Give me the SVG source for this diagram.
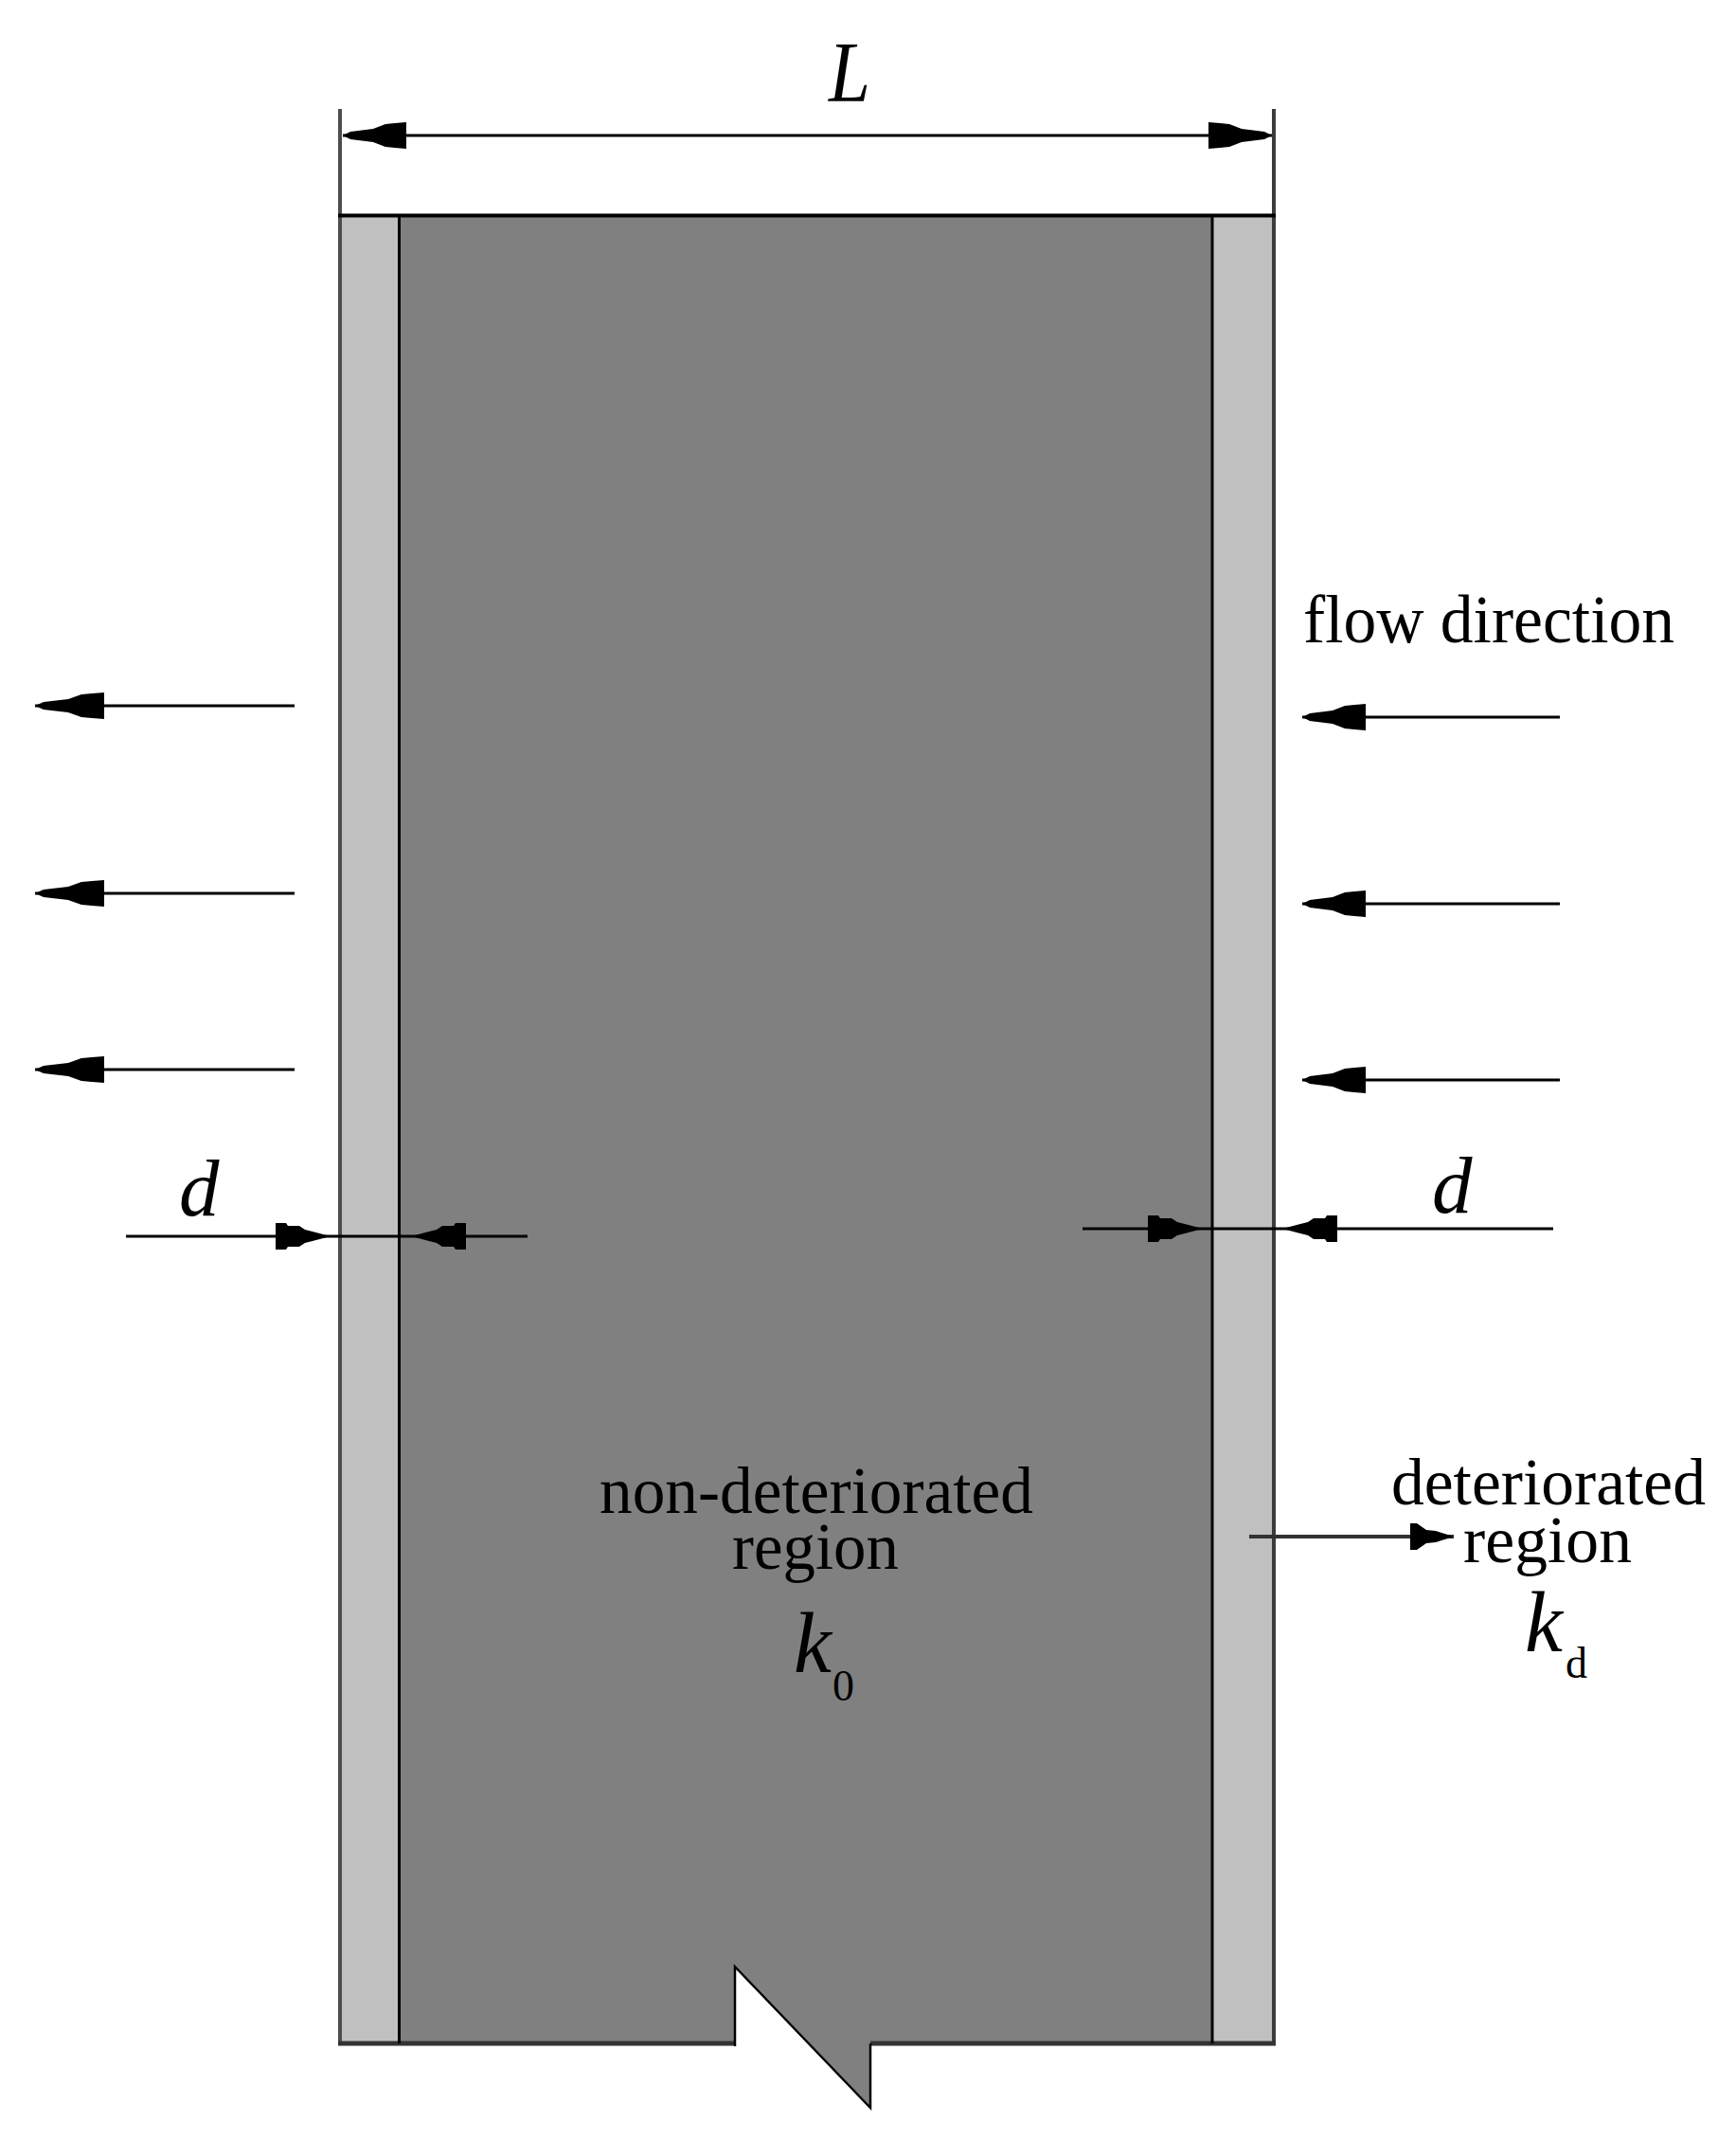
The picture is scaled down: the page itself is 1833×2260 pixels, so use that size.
<svg xmlns="http://www.w3.org/2000/svg" width="1833" height="2260" viewBox="0 0 1833 2260">
  <style>
    text { font-family: "Liberation Serif", "Times New Roman", serif; fill: #000; }
    .lbl { font-size: 70px; text-anchor: middle; }
    .var { font-style: italic; font-size: 90px; }
    .dv { font-style: italic; font-size: 85px; }
    .sub { font-size: 46px; }
    .ln { stroke: #000; stroke-width: 3; fill: none; }
    .ah { fill: #000; }
  </style>
  <defs>
    <marker id="head" markerUnits="userSpaceOnUse" markerWidth="68" markerHeight="30" refX="67" refY="15" orient="auto">
      <path class="ah" d="M67 15 L59 11 L35 8 L22 3 L12 2 L0 1 L0 29 L12 28 L22 27 L35 22 L59 19 Z"/>
    </marker>
    <marker id="headl" markerUnits="userSpaceOnUse" markerWidth="74" markerHeight="30" refX="73" refY="15" orient="auto">
      <path class="ah" d="M73 15 L64 11 L38 8 L24 3 L13 2 L0 1 L0 29 L13 28 L24 27 L38 22 L64 19 Z"/>
    </marker>
    <marker id="headd" markerUnits="userSpaceOnUse" markerWidth="60" markerHeight="30" refX="59" refY="15" orient="auto">
      <path class="ah" d="M59 15 L40 10 L32 8 L26 4 L14 4 L12 1 L1 1 L1 29 L12 29 L14 26 L26 26 L32 22 L40 20 Z"/>
    </marker>
    <marker id="heads" markerUnits="userSpaceOnUse" markerWidth="48" markerHeight="30" refX="47" refY="15" orient="auto">
      <path class="ah" d="M47 15 L28 9 L18 8 L8 1 L1 1 L1 29 L8 29 L18 22 L28 21 Z"/>
    </marker>
  </defs>
  <rect width="1833" height="2260" fill="#fff"/>

  <g id="left-strip"><rect x="358" y="227" width="63" height="1930" fill="#c0c0c0"/></g>
  <g id="right-strip"><rect x="1280" y="227" width="65" height="1930" fill="#c0c0c0"/></g>
  <g id="core">
    <path d="M421 2157 L776 2157 L776 2076 L919 2225 L919 2157 L1280 2157 L1280 227 L421 227 Z" fill="#808080"/>
  </g>
  <g id="outline" fill="none">
    <path d="M359 115 V2157" stroke="#4d4d4d" stroke-width="4"/>
    <path d="M1345 115 V2157" stroke="#3c3c3c" stroke-width="4"/>
    <path d="M357 227.500 H1347" stroke="#000" stroke-width="4"/>
    <path d="M357 2157 H776 M919 2157 H1347" stroke="#333" stroke-width="5"/>
    <path d="M421.500 227 V2157 M1280 227 V2157" stroke="#000" stroke-width="3"/>
    <path d="M776 2160 V2076 L919 2225 V2157" stroke="#000" stroke-width="2.500"/>
  </g>

  <g id="connectors">
    <line class="ln" x1="600" y1="143" x2="362" y2="143" marker-end="url(#head)"/>
    <line class="ln" x1="600" y1="143" x2="1343" y2="143" marker-end="url(#head)"/>
    <line class="ln" x1="311" y1="745" x2="37" y2="745" marker-end="url(#headl)"/>
    <line class="ln" x1="311" y1="943" x2="37" y2="943" marker-end="url(#headl)"/>
    <line class="ln" x1="311" y1="1129" x2="37" y2="1129" marker-end="url(#headl)"/>
    <line class="ln" x1="1647" y1="757" x2="1375" y2="757" marker-end="url(#head)"/>
    <line class="ln" x1="1647" y1="954" x2="1375" y2="954" marker-end="url(#head)"/>
    <line class="ln" x1="1647" y1="1140" x2="1375" y2="1140" marker-end="url(#head)"/>
    <line class="ln" x1="133" y1="1305" x2="349" y2="1305" marker-end="url(#headd)"/>
    <line class="ln" x1="349" y1="1305" x2="434" y2="1305"/>
    <line class="ln" x1="557" y1="1305" x2="434" y2="1305" marker-end="url(#headd)"/>
    <line class="ln" x1="1143" y1="1297" x2="1270" y2="1297" marker-end="url(#headd)"/>
    <line class="ln" x1="1270" y1="1297" x2="1354" y2="1297"/>
    <line class="ln" x1="1640" y1="1297" x2="1354" y2="1297" marker-end="url(#headd)"/>
    <line x1="1319" y1="1622" x2="1535" y2="1622" stroke="#333" stroke-width="4" marker-end="url(#heads)"/>
  </g>

  <g id="label-L"><text class="var" x="875" y="107" textLength="44" lengthAdjust="spacingAndGlyphs">L</text></g>
  <g id="label-d-left"><text class="dv" x="189" y="1283">d</text></g>
  <g id="label-d-right"><text class="dv" x="1512" y="1280">d</text></g>
  <g id="label-flow"><text x="1376" y="678" font-size="72" textLength="392" lengthAdjust="spacingAndGlyphs">flow direction</text></g>
  <g id="label-core">
    <text class="lbl" x="862" y="1597" textLength="458" lengthAdjust="spacingAndGlyphs">non-deteriorated</text>
    <text class="lbl" x="861" y="1656" textLength="176" lengthAdjust="spacingAndGlyphs">region</text>
    <text class="var" x="838" y="1765">k<tspan class="sub" style="font-style:normal" dx="1" dy="30">0</tspan></text>
  </g>
  <g id="label-strip">
    <text class="lbl" x="1635" y="1588" textLength="332" lengthAdjust="spacingAndGlyphs">deteriorated</text>
    <text class="lbl" x="1634" y="1649" textLength="178" lengthAdjust="spacingAndGlyphs">region</text>
    <text class="var" x="1610" y="1743">k<tspan class="sub" style="font-style:normal" dx="3" dy="28">d</tspan></text>
  </g>
</svg>
